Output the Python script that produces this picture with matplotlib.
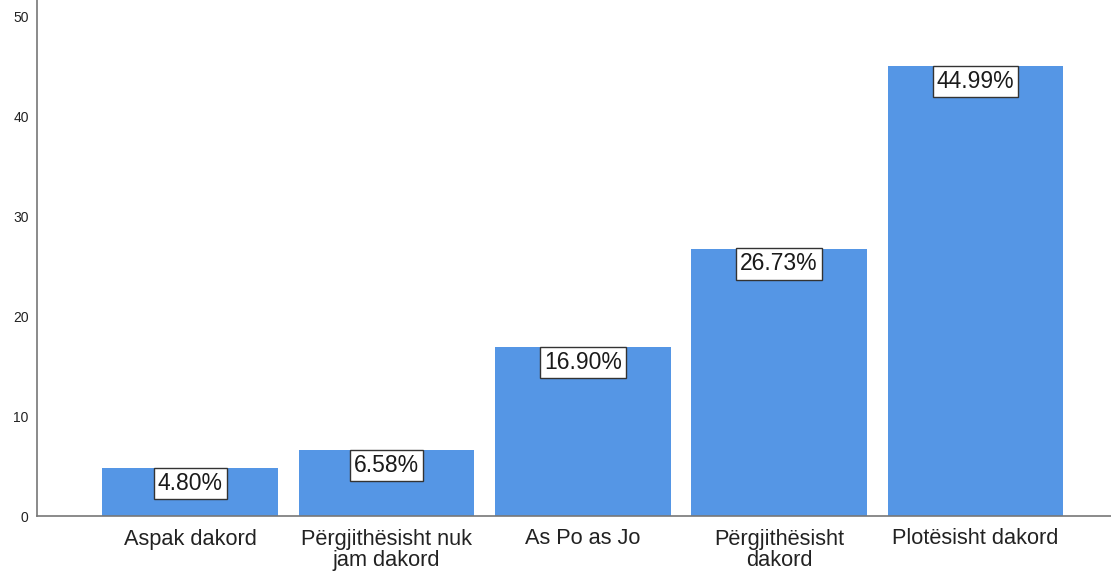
import matplotlib.pyplot as plt

categories = ['Aspak dakord', 'Përgjithësisht nuk\njam dakord', 'As Po as Jo',
              'Përgjithësisht\ndakord', 'Plotësisht dakord']
values = [4.80, 6.58, 16.90, 26.73, 44.99]
yticks = [0, 10, 20, 30, 40, 50]

plt.rcParams['font.family'] = ['Liberation Sans', 'DejaVu Sans']

fig = plt.figure(figsize=(11.11, 5.71), dpi=100)
ax = fig.add_axes([37 / 1111, 55 / 571, 1 - 37 / 1111, 1 - 55 / 571])

x = list(range(len(categories)))
ax.bar(x, values, width=0.896, color='#5596e5', zorder=2)

# percentage boxes hang from the top of each bar
for xi, v in zip(x, values):
    ax.text(xi, v - 0.38, f'{v:.2f}%', ha='center', va='top', fontsize=16.5,
            color='#1a1a1a',
            bbox=dict(boxstyle='square,pad=0.18', facecolor='white',
                      edgecolor='#333333', linewidth=1))

ax.set_xlim(-0.78, 4.69)
ax.set_ylim(0, 51.6)
ax.set_xticks(x)
ax.set_xticklabels(categories, fontsize=15.7, linespacing=1.02, color='#222222')
ax.set_yticks(yticks)
ax.set_yticklabels([str(t) for t in yticks], fontsize=10, color='#222222')
ax.tick_params(axis='both', length=0)
ax.tick_params(axis='x', pad=9)
ax.tick_params(axis='y', pad=6)

for s in ['top', 'right']:
    ax.spines[s].set_visible(False)
for s in ['left', 'bottom']:
    ax.spines[s].set_color('#777777')
    ax.spines[s].set_linewidth(1.2)

fig.savefig('out.png', dpi=100)
